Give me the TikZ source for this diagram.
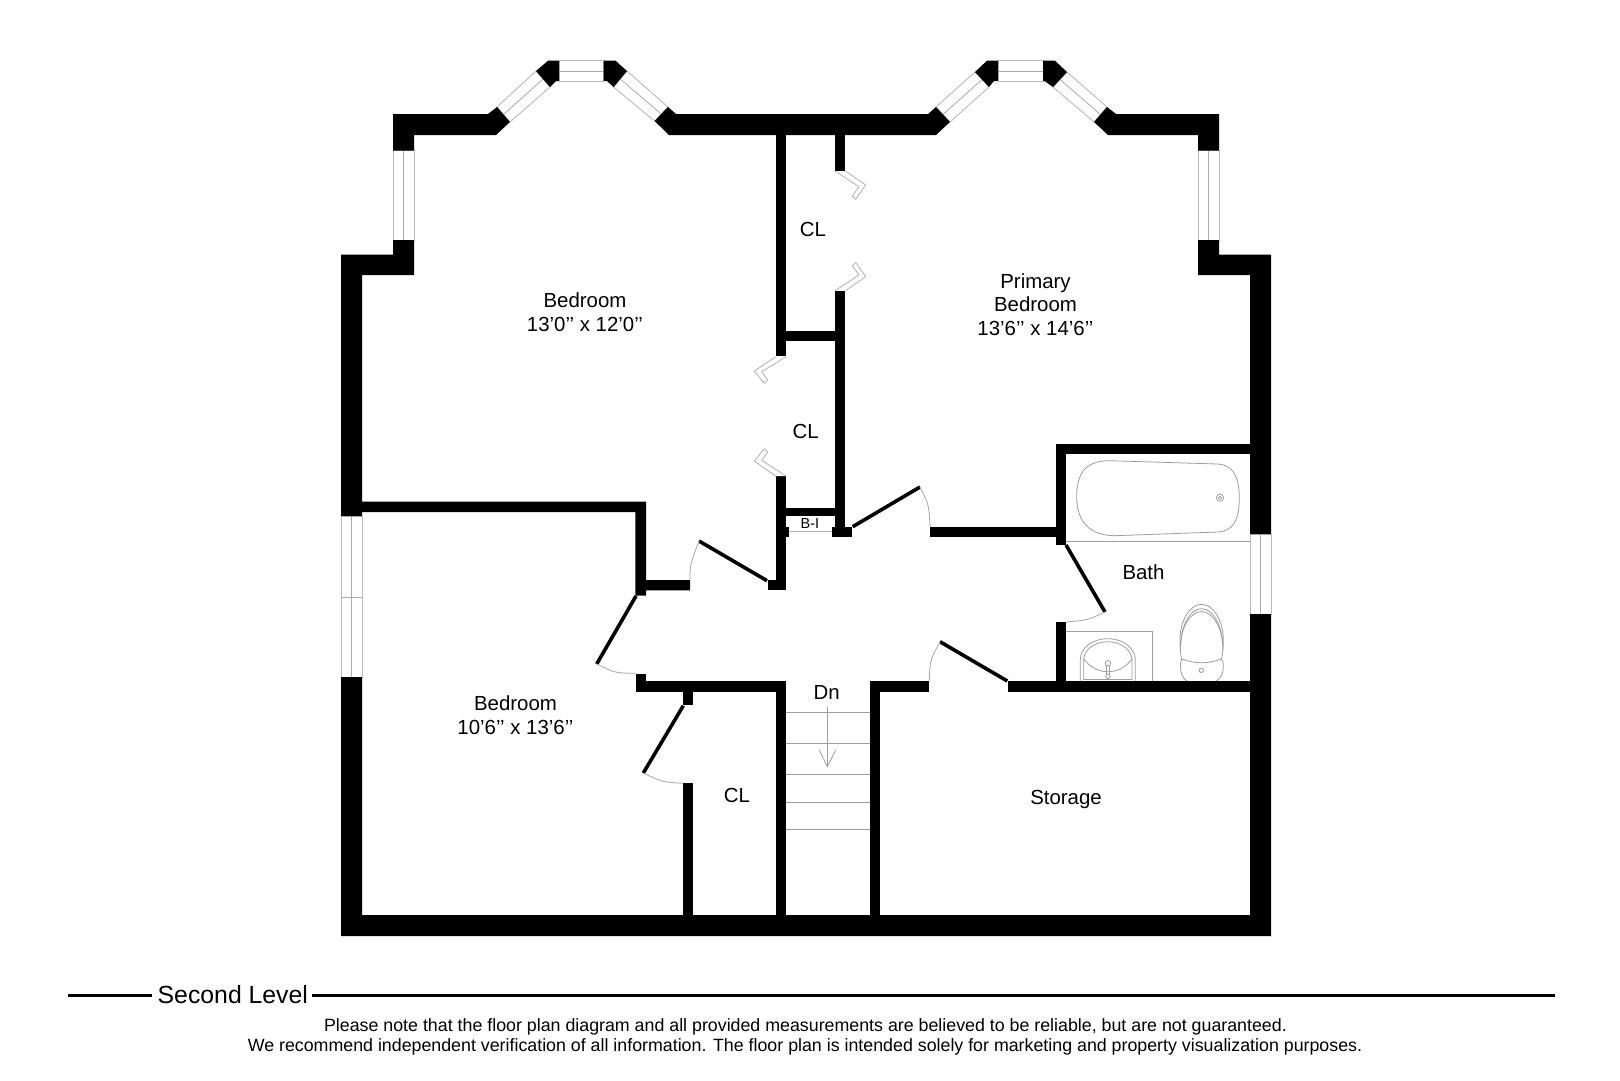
\documentclass[tikz,border=0pt]{standalone}
\usepackage{fontspec}
\setmainfont{Liberation Sans}
\tikzset{
  wall/.style={fill=black,draw=none},
  glass/.style={fill=white,draw=black!27,line width=0.9pt},
  glassmid/.style={draw=black!33,line width=0.8pt},
  fine/.style={draw=black!38,line width=0.8pt},
  doorpanel/.style={draw=black,line width=3.6pt},
  swing/.style={draw=black!35,line width=0.8pt},
  fold/.style={draw=black!30,line width=0.8pt,fill=white,line join=round},
  room/.style={font=\fontsize{20.4}{23.4}\selectfont,align=center,inner sep=0pt},
  small/.style={font=\fontsize{17.8}{19.7}\selectfont,align=center,inner sep=0pt}
}
\begin{document}
\begin{tikzpicture}[x=1pt,y=-1pt]
\path[fill=white,use as bounding box] (0,0) rectangle (1620,1080);
% windows
\draw[glass] (341,516) rectangle (362,677);
\draw[glassmid] (351.5,516) -- (351.5,677) (341,597) -- (362,597);
\draw[glass] (393,150.5) rectangle (414,240);
\draw[glassmid] (403.5,150.5) -- (403.5,240);
\draw[glass] (1198,150.5) rectangle (1219,240);
\draw[glassmid] (1208.5,150.5) -- (1208.5,240);
\draw[glass] (1250,534) rectangle (1271,614);
\draw[glassmid] (1260.5,534) -- (1260.5,614);
\draw[glass] (559,60.7) rectangle (603.5,81);
\draw[glassmid] (559,71) -- (603.5,71);
\draw[glass] (998,60.7) rectangle (1043,81);
\draw[glassmid] (998,71) -- (1043,71);
\draw[glass] (497,107) -- (510,122) -- (550,87) -- (536,71) -- cycle;
\draw[glassmid] (503.5,114.5) -- (543,79);
\draw[glass] (627,71) -- (613.6,87) -- (654.6,121) -- (668,107) -- cycle;
\draw[glassmid] (620.3,79) -- (661.3,114);
\draw[glass] (936,107) -- (950,122) -- (989,87) -- (975,72) -- cycle;
\draw[glassmid] (943,114.5) -- (982,79.5);
\draw[glass] (1067,72) -- (1053,87) -- (1094,122) -- (1107,107) -- cycle;
\draw[glassmid] (1060,79.5) -- (1100.5,114.5);
% walls
\fill[wall] (341,516) -- (341,254.5) -- (393,254.5) -- (393,240) -- (414,240) -- (414,275) -- (362,275) -- (362,501.7) -- (646,501.7) -- (646,580) -- (690,580) -- (690,590.3) -- (646,590.3) -- (646,595.7) -- (635.3,595.7) -- (635.3,512) -- (362,512) -- (362,516) -- cycle;
\fill[wall] (393,150.5) -- (393,114) -- (488,114) -- (497,107) -- (510,122) -- (496,135) -- (414,135) -- (414,150.5) -- cycle;
\fill[wall] (536,71) -- (548,60.7) -- (559,60.7) -- (559,81) -- (556,81) -- (550,87) -- cycle;
\fill[wall] (603.5,60.7) -- (615.5,60.7) -- (627,71) -- (613.6,87) -- (607,81) -- (603.5,81) -- cycle;
\fill[wall] (668,107) -- (676,114) -- (928,114) -- (936,107) -- (950,122) -- (936,135) -- (669,135) -- (654.6,121) -- cycle;
\fill[wall] (975,72) -- (987,60.7) -- (998,60.7) -- (998,81) -- (994,81) -- (989,87) -- cycle;
\fill[wall] (1043,60.7) -- (1055,60.7) -- (1067,72) -- (1053,87) -- (1044.5,81) -- (1043,81) -- cycle;
\fill[wall] (1107,107) -- (1116,114) -- (1219,114) -- (1219,150.5) -- (1198,150.5) -- (1198,135) -- (1108,135) -- (1094,122) -- cycle;
\fill[wall] (1198,240) -- (1219,240) -- (1219,254.5) -- (1271,254.5) -- (1271,534) -- (1250,534) -- (1250,275) -- (1198,275) -- cycle;
\fill[wall] (341,677) -- (362,677) -- (362,915) -- (1250,915) -- (1250,614) -- (1271,614) -- (1271,936) -- (341,936) -- cycle;
% closet walls
\fill[wall] (775.7,135) rectangle (786,356);
\fill[wall] (835,135) rectangle (845.4,171);
\fill[wall] (786,330.7) rectangle (835,341);
\fill[wall] (835,290.7) rectangle (845.4,537);
\fill[wall] (775.7,476) rectangle (786,590);
\fill[wall] (767.7,580) rectangle (786,590);
\fill[wall] (786,508) rectangle (835,516);
\fill[wall] (786,526.7) rectangle (789.3,537);
\fill[wall] (832.3,527) rectangle (852,537);
\draw[glassmid] (789,531.7) -- (832.3,531.7);
% hall and bath walls
\fill[wall] (930,526.7) rectangle (1066,537.3);
\fill[wall] (1055.7,444) rectangle (1066,544.5);
\fill[wall] (1055.7,444) rectangle (1250,454);
\fill[wall] (1055.7,622) rectangle (1066,692);
\fill[wall] (1007.7,681) rectangle (1250,692);
\fill[wall] (870,681.3) rectangle (929.3,691.7);
\fill[wall] (870,681.3) rectangle (880,915);
\fill[wall] (775.7,681.3) rectangle (786,915);
\fill[wall] (635.7,681.3) rectangle (786,691.7);
\fill[wall] (635.7,674) rectangle (646,691.7);
\fill[wall] (682.7,691.7) rectangle (693.3,705);
\fill[wall] (682.7,783.3) rectangle (693.3,915);
% hinged doors
\draw[doorpanel] (699,541) -- (767,580.7);
\draw[swing] (690,580) .. controls (690,565) .. (699,541);
\draw[doorpanel] (852.7,526.7) -- (920,487);
\draw[swing] (920,487) .. controls (929,505) .. (930,527);
\draw[doorpanel] (1066,545) -- (1105,612);
\draw[swing] (1105,612) .. controls (1088,620) .. (1066,622);
\draw[doorpanel] (940,641.7) -- (1007.3,681);
\draw[swing] (940,642) .. controls (930,660) .. (929.3,681);
\draw[doorpanel] (636,596) -- (596.7,664);
\draw[swing] (596.7,664) .. controls (615,673) .. (636,673.3);
\draw[doorpanel] (683.3,705.7) -- (643.3,773);
\draw[swing] (643.3,773) .. controls (662,782) .. (682.7,783.3);
% folding doors
\draw[fold] (845.4,171) -- (865.7,185) -- (855.7,199.3) -- (852.3,196) -- (859,186.7) -- (835,171);
\draw[fold] (845.4,290.7) -- (865.7,276.7) -- (855.7,262.4) -- (852.3,265.7) -- (859,275) -- (835,290.7);
\draw[fold] (775.7,356.7) -- (754.3,371) -- (764.3,383.3) -- (767.7,380) -- (761.7,371.7) -- (786,356.7);
\draw[fold] (775.7,476) -- (754.3,461) -- (764.3,448.7) -- (767.7,452) -- (761.7,460.3) -- (786,476);
% stairs
\foreach \sy in {712.3,743.3,774,802.3,829.3}{\draw[fine] (786,\sy) -- (870,\sy);}
\coordinate (arrowtop) at (827.3,707.3);
\coordinate (arrowtip) at (827.3,766.7);
\draw[fine] (arrowtop) -- (arrowtip);
\draw[fine] (819.3,750) -- (arrowtip) -- (835.7,750);
% tub
\draw[fine] (1066,541) -- (1250,541);
\draw[fine] (1076.7,497) .. controls (1076.7,470) and (1088,460.7) .. (1110,460.7) -- (1218,464) .. controls (1232,465) and (1239.3,475) .. (1239.3,498) .. controls (1239.3,522) and (1232,531) .. (1218,532) -- (1115,535.7) .. controls (1090,535.7) and (1076.7,522) .. (1076.7,497) -- cycle;
\draw[fine] (1220,497.7) circle (3.6) circle (1.6);
% sink
\draw[fine] (1066,631.3) -- (1152.3,631.3) -- (1152.3,681);
\draw[fine] (1080.3,681) -- (1080.3,660) .. controls (1080.3,648) and (1092,638.7) .. (1107.8,638.7) .. controls (1123,638.7) and (1135.3,648) .. (1135.3,660) -- (1135.3,681);
\draw[fine] (1083.7,680) -- (1083.7,660) .. controls (1083.7,650) and (1094,641.7) .. (1107.8,641.7) .. controls (1121,641.7) and (1132,650) .. (1132,660) -- (1132,680);
\draw[fine] (1083.7,659) .. controls (1090,667) and (1098,671.7) .. (1107.8,671.7) .. controls (1118,671.7) and (1126,667) .. (1132,659);
\draw[fine] (1083.7,679.3) -- (1132,679.3);
\draw[fine] (1106.4,666) -- (1106.4,674.5) (1109.2,666) -- (1109.2,674.5);
\draw[fine] (1107.8,663.3) circle (2.8);
\draw[fine] (1107.8,676.3) circle (2.3);
% toilet
\draw[fine] (1181.5,659) .. controls (1180.3,652) and (1180,646) .. (1180,640) .. controls (1180,620) and (1190,604.3) .. (1201.5,604.3) .. controls (1213,604.3) and (1223.3,620) .. (1223.3,640) .. controls (1223.3,646) and (1223,652) .. (1221.5,659);
\draw[fine] (1180.3,650) .. controls (1180,628) and (1189,608.7) .. (1201.5,608.7) .. controls (1214,608.7) and (1223.3,628) .. (1223,650);
\draw[fine] (1180.6,645) .. controls (1181,628) and (1190,611.5) .. (1201.5,611.5) .. controls (1213,611.5) and (1222,628) .. (1222.7,645);
\draw[fine] (1187,681) .. controls (1182,678) and (1180.5,672) .. (1180.5,667) .. controls (1180.5,662) and (1181,660) .. (1182,659) .. controls (1195,664) and (1208,664) .. (1221,659) .. controls (1222.5,660) and (1223.3,662) .. (1223.3,667) .. controls (1223.3,672) and (1222,678) .. (1216,681);
\draw[fine] (1201.3,670.3) circle (2.2);
% labels
\node[room] (bed1) at (585,312.3) {Bedroom\\13’0’’ x 12’0’’};
\node[room] (bed2) at (1035.5,304.6) {Primary\\Bedroom\\13’6’’ x 14’6’’};
\node[room] (bed3) at (515.5,715.3) {Bedroom\\10’6’’ x 13’6’’};
\node[room] (cl1) at (813,229) {CL};
\node[room] (cl2) at (805.7,431.7) {CL};
\node[room] (cl3) at (737,795) {CL};
\node[room] (bath) at (1143.5,572) {Bath};
\node[room] (dn) at (826.7,692) {Dn};
\node[room] (storage) at (1066,799.6) {Storage};
\node[inner sep=0pt,font=\fontsize{14.5}{16}\selectfont] (bi) at (810,524) {B-I};
% footer
\node[inner sep=0pt,anchor=west,font=\fontsize{24.8}{28}\selectfont] (level) at (157.5,995) {Second Level};
\coordinate (la) at (68,995.5);
\coordinate (lb) at (152,995.5);
\coordinate (lc) at (312,995.5);
\coordinate (ld) at (1555,995.5);
\draw[line width=3pt] (la) -- (lb);
\draw[line width=3pt] (lc) -- (ld);
\node[small] (note1) at (805.5,1027) {Please note that the floor plan diagram and all provided measurements are believed to be reliable, but are not guaranteed.};
\node[small] (note2) at (805,1047) {We recommend independent verification of all information. The floor plan is intended solely for marketing and property visualization purposes.};
\end{tikzpicture}
\end{document}
